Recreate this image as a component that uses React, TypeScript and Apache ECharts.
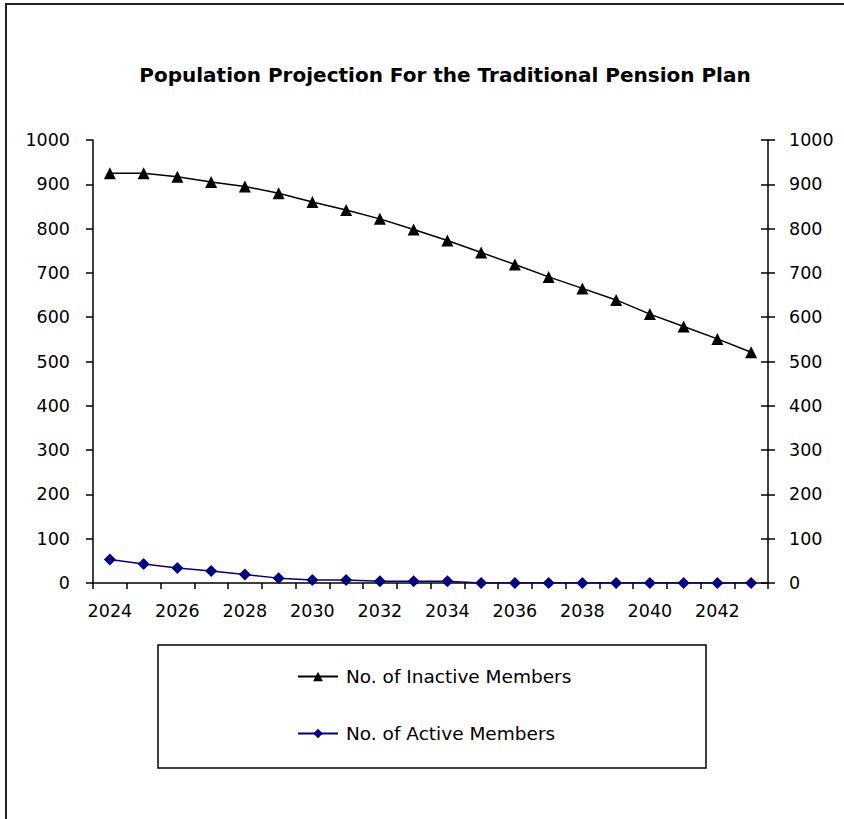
import React, { useEffect, useRef } from "react";
import * as echarts from "echarts";

const years = [
  "2024", "2025", "2026", "2027", "2028", "2029", "2030", "2031", "2032", "2033",
  "2034", "2035", "2036", "2037", "2038", "2039", "2040", "2041", "2042", "2043",
];

const inactiveMembers = [
  925, 925, 917, 905, 895, 880, 860, 842, 822, 798,
  773, 746, 719, 691, 665, 639, 607, 579, 551, 521,
];

const activeMembers = [
  53, 43, 34, 27, 19, 11, 7, 7, 4, 4,
  4, 0, 0, 0, 0, 0, 0, 0, 0, 0,
];

const yMin = 0;
const yMax = 1000;
const yStep = 100;

const FONT = "'DejaVu Sans', sans-serif";

export default function App() {
  const ref = useRef<HTMLDivElement>(null);

  useEffect(() => {
    if (!ref.current) return;
    const chart = echarts.init(ref.current, null, { renderer: "svg" });

    const valueAxisBase = {
      type: "value" as const,
      min: yMin,
      max: yMax,
      interval: yStep,
      splitLine: { show: false },
    };
    const plain = (v: number) => String(v);

    chart.setOption({
      animation: false,
      backgroundColor: "#ffffff",
      textStyle: { fontFamily: FONT },
      title: {
        text: "Population Projection For the Traditional Pension Plan",
        left: 440,
        top: 60,
        textAlign: "center",
        textStyle: {
          fontFamily: FONT,
          fontSize: 20,
          fontWeight: "bold",
          color: "#000",
        },
      },
      grid: { left: 93, right: 76, top: 140, bottom: 236, containLabel: false },
      legend: {
        orient: "vertical",
        left: 297,
        top: 667,
        padding: 0,
        itemGap: 38,
        itemWidth: 40,
        itemHeight: 12,
        textStyle: { fontFamily: FONT, fontSize: 18.5, color: "#000", padding: [0, 0, 0, 3] },
        data: [
          { name: "No. of Inactive Members" },
          { name: "No. of Active Members" },
        ],
      },
      xAxis: {
        type: "category",
        data: years,
        boundaryGap: true,
        axisLine: { show: true, lineStyle: { color: "#000", width: 1.5 } },
        axisTick: { show: true, interval: 0, length: 6, lineStyle: { color: "#000", width: 1.5 } },
        axisLabel: { interval: 1, margin: 19, fontFamily: FONT, fontSize: 17.5, color: "#000" },
      },
      yAxis: [
        {
          ...valueAxisBase,
          position: "left",
          axisLine: { show: true, lineStyle: { color: "#000", width: 1.5 } },
          axisTick: { show: true, length: 7, lineStyle: { color: "#000", width: 1.5 } },
          axisLabel: { margin: 23, formatter: plain, fontFamily: FONT, fontSize: 17.5, color: "#000" },
        },
        {
          ...valueAxisBase,
          position: "right",
          axisLine: { show: true, lineStyle: { color: "#000", width: 1.5 } },
          axisTick: { show: true, length: 7, lineStyle: { color: "#000", width: 1.5 } },
          axisLabel: { margin: 21, formatter: plain, fontFamily: FONT, fontSize: 17.5, color: "#000" },
        },
        {
          ...valueAxisBase,
          position: "right",
          axisLine: { show: false },
          axisTick: { show: true, inside: true, length: 7, lineStyle: { color: "#000", width: 1.5 } },
          axisLabel: { show: false },
        },
      ],
      series: [
        {
          name: "No. of Inactive Members",
          type: "line",
          data: inactiveMembers,
          yAxisIndex: 0,
          symbol: "triangle",
          symbolSize: 12,
          showAllSymbol: true,
          lineStyle: { color: "#000", width: 1.5 },
          itemStyle: { color: "#000" },
        },
        {
          name: "No. of Active Members",
          type: "line",
          data: activeMembers,
          yAxisIndex: 0,
          symbol: "diamond",
          symbolSize: 12,
          showAllSymbol: true,
          lineStyle: { color: "#000080", width: 1.5 },
          itemStyle: { color: "#000080" },
        },
      ],
      graphic: [
        {
          type: "rect",
          shape: { x: 6, y: 4, width: 900, height: 900 },
          style: { fill: "none", stroke: "#222", lineWidth: 2 },
          silent: true,
        },
        {
          type: "rect",
          shape: { x: 158, y: 645, width: 548, height: 123 },
          style: { fill: "none", stroke: "#000", lineWidth: 1.5 },
          silent: true,
        },
      ],
    });

    return () => chart.dispose();
  }, []);

  return (
    <div
      ref={ref}
      style={{ position: "absolute", left: 0, top: 0, width: 844, height: 819 }}
    />
  );
}
